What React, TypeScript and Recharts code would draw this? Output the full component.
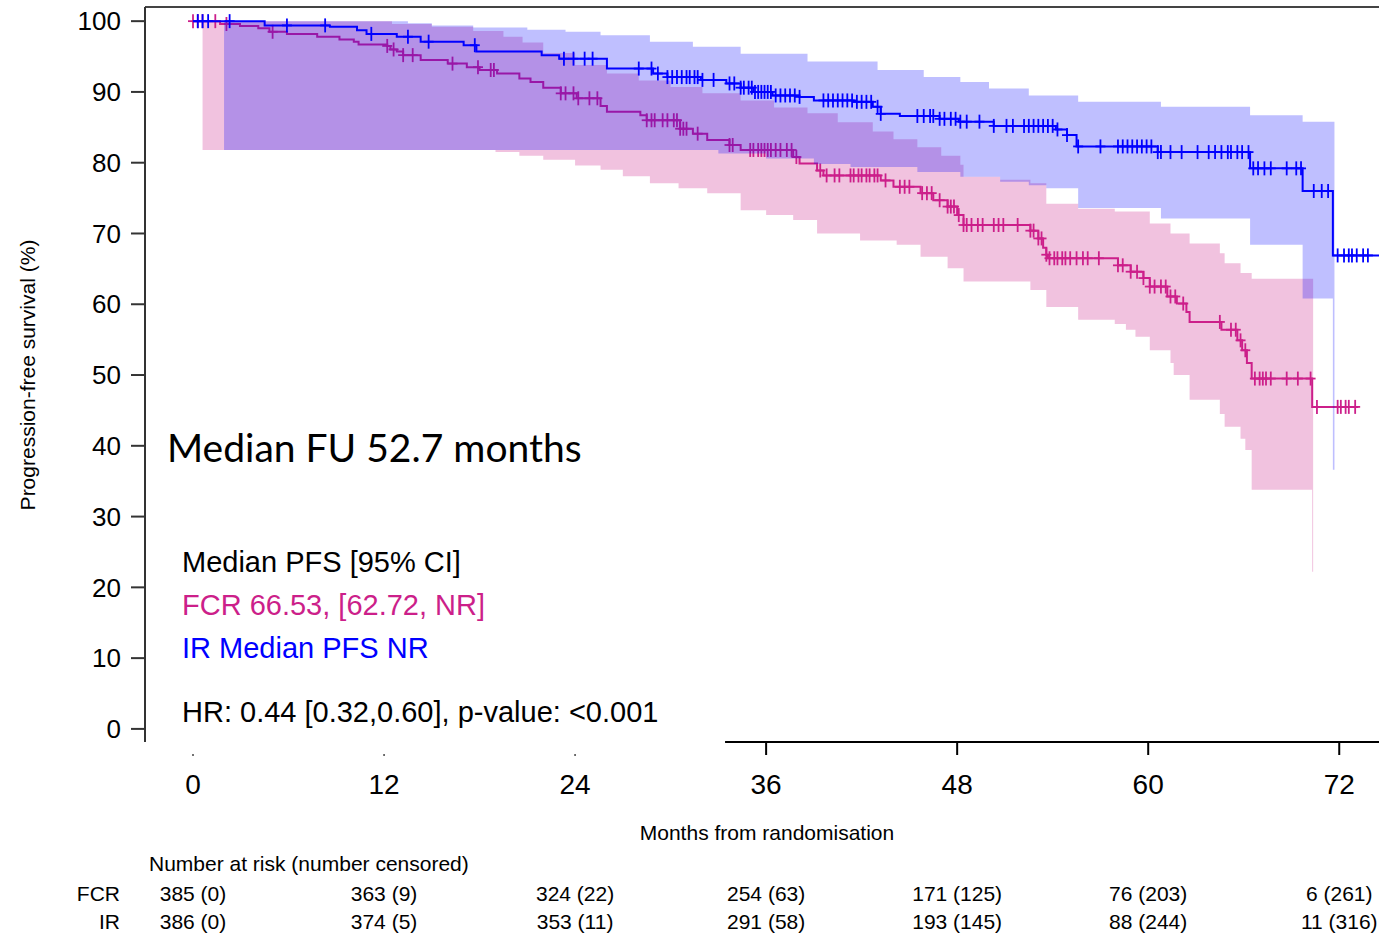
import React from 'react';
import { ComposedChart, Area, Line, Scatter, XAxis, YAxis, ReferenceLine } from 'recharts';

type Step = [number, number];

const monthTicks = [0, 12, 24, 36, 48, 60, 72];
const pfsTicks = [0, 10, 20, 30, 40, 50, 60, 70, 80, 90, 100];

const fcrAtRisk = ['385 (0)', '363 (9)', '324 (22)', '254 (63)', '171 (125)', '76 (203)', '6 (261)'];
const irAtRisk = ['386 (0)', '374 (5)', '353 (11)', '291 (58)', '193 (145)', '88 (244)', '11 (316)'];

// Kaplan-Meier estimates, [month, % progression-free]
const fcrCurve: Step[] = [
  [0, 100], [1.7, 99.6], [2.95, 99.3], [4.1, 99.0], [4.8, 98.5], [5.9, 98.2], [7.8, 97.8], [9.2, 97.4],
  [10.1, 97.1], [10.4, 96.7], [12.2, 96.5], [12.4, 96.0], [12.8, 95.7], [13.2, 95.2], [14.3, 94.5],
  [16, 94.0], [17.2, 93.5], [18, 93.1], [19.1, 92.6], [20.5, 91.9], [21.2, 91.4], [22, 90.6],
  [23.1, 89.8], [24.1, 89.1], [25.6, 88.0], [26, 87.2], [28.1, 86.7], [28.5, 86.0], [30.6, 84.8],
  [31.4, 84.1], [32.3, 83.2], [33.7, 82.5], [34.4, 81.8], [37.7, 80.8], [38.1, 79.9], [39.2, 78.9],
  [39.6, 78.2], [43.2, 77.5], [44, 76.6], [45.7, 75.7], [46.5, 74.7], [47.4, 73.8], [48, 72.6],
  [48.4, 71.2], [52.6, 70.4], [53.1, 69.3], [53.4, 68.0], [53.6, 67.0], [53.7, 66.5], [58.1, 65.5],
  [58.9, 64.6], [59.7, 63.7], [60.1, 62.5], [61.2, 61.1], [61.8, 60.1], [62.4, 58.9], [62.6, 57.5],
  [64.6, 56.4], [65.6, 54.9], [65.9, 53.5], [66.2, 51.7], [66.5, 49.5], [70.3, 45.5], [73.2, 45.5],
];

const irCurve: Step[] = [
  [0, 100], [4.5, 99.4], [8.6, 99.2], [10.3, 98.7], [10.9, 98.2], [12.8, 97.8], [14.3, 97.1],
  [17.0, 96.6], [17.8, 95.7], [21.9, 95.2], [23.0, 94.7], [26.0, 93.3], [28.9, 92.6], [29.8, 92.1],
  [31.9, 91.7], [33.5, 91.2], [34.4, 90.6], [35.2, 90.0], [36.4, 89.5], [38.1, 89.3], [39.0, 88.8],
  [41.5, 88.6], [42.7, 87.9], [43.2, 86.9], [44.4, 86.6], [46.9, 86.2], [48.1, 85.8], [50.3, 85.2],
  [54.2, 84.7], [54.9, 83.9], [55.5, 82.3], [60.6, 81.5], [66.4, 79.2], [69.7, 76.0], [71.6, 66.9],
  [74.6, 66.9],
];

// 95% confidence bands
const fcrLower: Step[] = [
  [0.6, 81.8], [19, 81.5], [20.5, 81.0], [22, 80.4], [24, 79.6], [25.6, 79.0], [27, 78.1],
  [28.7, 77.1], [30.5, 76.4], [32.3, 75.7], [34.4, 73.3], [36, 72.6], [37.7, 71.9], [39.2, 70.0],
  [41.9, 69.0], [44.2, 68.4], [45.7, 66.7], [47.4, 65.1], [48.4, 63.2], [52.6, 62.0], [53.6, 59.6],
  [55.6, 57.8], [57.9, 57.2], [58.6, 56.4], [59.2, 55.4], [60.1, 53.5], [61.4, 51.7], [61.6, 50.0],
  [62.6, 46.5], [64.5, 44.5], [64.8, 42.7], [65.8, 41.0], [66.1, 39.4], [66.5, 33.8], [70.3, 22.2],
  [70.36, 22.2],
];
const fcrUpper: Step[] = [
  [0.6, 100], [11, 100], [12.5, 99.6], [15, 99.2], [17.6, 98.6], [19.5, 97.8], [20.7, 97.0],
  [22, 95.5], [24, 93.8], [26, 92.6], [28, 91.6], [30, 90.7], [32, 89.8], [34.4, 88.8], [36.5, 87.8],
  [38.6, 87.0], [40.5, 85.7], [42.7, 84.4], [44, 83.3], [45.5, 82.2], [47, 81.0], [48.2, 79.7],
  [48.4, 78.0], [50.7, 77.6], [52.6, 77.1], [53.6, 74.2], [55.6, 73.5], [57.9, 73.1], [60.1, 71.4],
  [61.4, 70.0], [62.6, 68.6], [64.5, 67.2], [64.8, 65.8], [65.8, 64.4], [66.5, 63.6], [70.3, 63.6],
  [70.36, 63.6],
];
const irLower: Step[] = [
  [1.95, 81.8], [30, 81.8], [33, 81.3], [36, 80.6], [39, 79.8], [41.3, 79.4], [45.5, 78.7],
  [48.2, 78.0], [50.7, 77.3], [52.5, 76.8], [53.6, 76.4], [55.6, 73.6], [60.8, 72.1], [66.4, 68.4],
  [69.7, 60.8], [71.6, 36.6], [71.7, 36.6],
];
const irUpper: Step[] = [
  [1.95, 100], [11.5, 100], [13.5, 99.7], [15, 99.4], [17.6, 99.1], [21, 98.8], [23.4, 98.5],
  [25.6, 98.0], [28.7, 97.1], [31.4, 96.4], [34.4, 95.4], [38.6, 94.3], [43, 93.1], [45.9, 92.1],
  [48.2, 91.4], [50, 90.5], [52.5, 89.5], [55.6, 88.6], [60.8, 87.9], [66.4, 86.7], [69.7, 85.8],
  [71.6, 85.8], [71.7, 85.8],
];

// censoring times (months)
const fcrCensored = [
  0, 0.3, 0.6, 1.4, 2.1, 5.0, 12.2, 12.6, 13.2, 13.8, 16.3, 17.9, 18.7, 18.9, 23.1, 23.4, 23.9, 24.2,
  24.9, 25.4, 28.5, 28.8, 29.0, 29.5, 29.8, 30.2, 30.4, 30.6, 30.8, 31.0, 31.7, 33.7, 33.9, 35.0,
  35.2, 35.5, 35.7, 35.9, 36.1, 36.3, 36.6, 36.9, 37.3, 37.6, 37.9, 39.4, 39.8, 40.3, 40.6, 41.3,
  41.5, 41.8, 42.0, 42.3, 42.5, 42.8, 43.0, 43.5, 44.4, 44.7, 45.0, 45.8, 46.1, 46.4, 46.9, 47.4,
  47.6, 47.8, 48.1, 48.4, 48.6, 48.9, 49.3, 49.6, 50.3, 50.6, 50.9, 51.8, 52.6, 52.8, 53.1, 53.3,
  53.6, 53.8, 54.1, 54.3, 54.6, 54.8, 55.1, 55.5, 55.9, 56.2, 56.9, 58.1, 58.4, 58.9, 59.3, 59.7,
  60.1, 60.4, 60.8, 61.1, 61.4, 61.7, 62.2, 64.5, 65.2, 65.5, 65.8, 66.1, 66.7, 67.0, 67.2, 67.4,
  67.7, 68.7, 69.4, 70.2, 70.6, 71.9, 72.1, 72.4, 72.6, 73.0,
];
const irCensored = [
  0.3, 0.6, 0.95, 2.3, 5.9, 8.3, 11.2, 13.5, 14.8, 17.7, 23.3, 23.9, 24.6, 25.1, 28.0, 28.8, 29.2,
  29.8, 30.1, 30.4, 30.7, 31.0, 31.2, 31.5, 31.7, 32.0, 32.7, 33.7, 34.0, 34.4, 34.6, 34.9, 35.1,
  35.3, 35.5, 35.7, 35.9, 36.1, 36.3, 36.6, 36.9, 37.2, 37.5, 37.8, 38.1, 39.6, 39.9, 40.2, 40.5,
  40.8, 41.1, 41.4, 41.7, 42.0, 42.3, 42.6, 43.0, 43.2, 45.5, 45.9, 46.3, 46.5, 46.9, 47.2, 47.6,
  47.9, 48.2, 48.6, 49.4, 50.3, 51.1, 51.5, 52.2, 52.5, 52.8, 53.1, 53.4, 53.7, 54.0, 54.3, 54.9,
  55.6, 57.0, 58.1, 58.4, 58.7, 59.0, 59.3, 59.6, 59.9, 60.2, 60.6, 60.8, 61.4, 62.1, 63.1, 63.8,
  64.2, 64.6, 65.0, 65.2, 65.6, 65.9, 66.3, 66.6, 66.9, 67.3, 67.7, 68.7, 69.3, 69.6, 70.4, 70.9,
  71.3, 71.9, 72.3, 72.6, 72.8, 73.1, 73.5, 73.8,
];

const FCR = '#cc1f8a';
const IR = '#0000ff';
const FONT = '"Liberation Sans", Arial, sans-serif';
const X_MIN = -3.0157;
const Y_MIN = -1.85;
const Y_MAX = 102;

function stepAt(steps: Step[], t: number): number | null {
  if (t < steps[0][0] || t > steps[steps.length - 1][0]) return null;
  let v = steps[0][1];
  for (const [s, y] of steps) {
    if (s <= t) v = y;
    else break;
  }
  return v;
}

function band(lo: Step[], hi: Step[], t: number) {
  const a = stepAt(lo, t);
  const b = stepAt(hi, t);
  return a == null || b == null ? null : [a, b];
}

const times = Array.from(
  new Set([...fcrCurve, ...irCurve, ...fcrLower, ...fcrUpper, ...irLower, ...irUpper].map((s) => s[0]))
).sort((a, b) => a - b);

const rows = times.map((t) => ({
  t,
  fcr: stepAt(fcrCurve, t),
  ir: stepAt(irCurve, t),
  fcrBand: band(fcrLower, fcrUpper, t),
  irBand: band(irLower, irUpper, t),
}));

const fcrMarks = fcrCensored.map((t) => ({ t, v: stepAt(fcrCurve, t) }));
const irMarks = irCensored.map((t) => ({ t, v: stepAt(irCurve, t) }));

const cross = (color: string) => (props: any) => {
  const { cx, cy } = props;
  if (cx == null || cy == null) return <g />;
  return (
    <g stroke={color} strokeWidth={1.8}>
      <line x1={cx} y1={cy - 7} x2={cx} y2={cy + 7} />
      <line x1={cx - 5} y1={cy} x2={cx + 5} y2={cy} />
    </g>
  );
};

function MonthTick({ x, y, payload }: any) {
  const i = monthTicks.indexOf(payload.value);
  return (
    <g fontFamily={FONT} fill="#000">
      {payload.value >= 36 ? (
        <line x1={x} y1={y} x2={x} y2={y + 13} stroke="#000" strokeWidth={2} />
      ) : (
        <circle cx={x} cy={y + 13} r={1} fill="#444" />
      )}
      <text x={x} y={y + 52} textAnchor="middle" fontSize={28}>{payload.value}</text>
      <text x={x} y={y + 159} textAnchor="middle" fontSize={21}>{fcrAtRisk[i]}</text>
      <text x={x} y={y + 187} textAnchor="middle" fontSize={21}>{irAtRisk[i]}</text>
    </g>
  );
}

export default function App() {
  return (
    <div style={{ position: 'absolute', left: 0, top: 0, width: 1379, height: 934, overflow: 'hidden', background: '#fff' }}>
      <ComposedChart width={1387} height={934} data={rows} margin={{ top: 7, right: 0, bottom: 162, left: 85 }}>
        <XAxis
          dataKey="t"
          type="number"
          domain={[X_MIN, 75]}
          ticks={monthTicks}
          interval={0}
          allowDataOverflow
          axisLine={false}
          tickLine={false}
          tickSize={0}
          tickMargin={0}
          height={30}
          tick={<MonthTick />}
        />
        <YAxis
          type="number"
          domain={[Y_MIN, Y_MAX]}
          ticks={pfsTicks}
          interval={0}
          allowDataOverflow
          width={60}
          tickSize={14}
          tickMargin={10}
          axisLine={{ stroke: '#333', strokeWidth: 2 }}
          tickLine={{ stroke: '#333', strokeWidth: 2 }}
          tick={{ fill: '#000', fontSize: 26, fontFamily: FONT }}
        />
        <ReferenceLine y={Y_MAX} stroke="#444" strokeWidth={2} />
        <ReferenceLine segment={[{ x: 33.42, y: Y_MIN }, { x: 75, y: Y_MIN }]} stroke="#000" strokeWidth={2} />
        <Area
          dataKey="fcrBand"
          type="stepAfter"
          stroke="none"
          fill={FCR}
          fillOpacity={0.27}
          isAnimationActive={false}
          activeDot={false}
          zIndex={100}
        />
        <Line dataKey="fcr" type="stepAfter" stroke={FCR} strokeWidth={2} dot={false} activeDot={false} isAnimationActive={false} zIndex={101} />
        <Scatter data={fcrMarks} dataKey="v" shape={cross(FCR)} isAnimationActive={false} zIndex={102} />
        <Area
          dataKey="irBand"
          type="stepAfter"
          stroke="none"
          fill={IR}
          fillOpacity={0.25}
          isAnimationActive={false}
          activeDot={false}
          zIndex={103}
        />
        <Line dataKey="ir" type="stepAfter" stroke={IR} strokeWidth={2} dot={false} activeDot={false} isAnimationActive={false} zIndex={104} />
        <Scatter data={irMarks} dataKey="v" shape={cross(IR)} isAnimationActive={false} zIndex={105} />
      </ComposedChart>
      <svg width={1379} height={934} style={{ position: 'absolute', left: 0, top: 0, pointerEvents: 'none' }} fontFamily={FONT}>
        <text transform="translate(35, 375) rotate(-90)" textAnchor="middle" fontSize={21}>Progression-free survival (%)</text>
        <text x={167} y={462} fontSize={39} fontFamily="Lato, sans-serif">Median FU 52.7 months</text>
        <text x={182} y={572} fontSize={29}>Median PFS [95% CI]</text>
        <text x={182} y={615} fontSize={29} fill={FCR}>FCR 66.53, [62.72, NR]</text>
        <text x={182} y={658} fontSize={29} fill={IR}>IR Median PFS NR</text>
        <text x={182} y={722} fontSize={29}>HR: 0.44 [0.32,0.60], p-value: &lt;0.001</text>
        <text x={767} y={840} textAnchor="middle" fontSize={21}>Months from randomisation</text>
        <text x={149} y={871} fontSize={21}>Number at risk (number censored)</text>
        <text x={120} y={901} textAnchor="end" fontSize={21}>FCR</text>
        <text x={120} y={929} textAnchor="end" fontSize={21}>IR</text>
      </svg>
    </div>
  );
}
